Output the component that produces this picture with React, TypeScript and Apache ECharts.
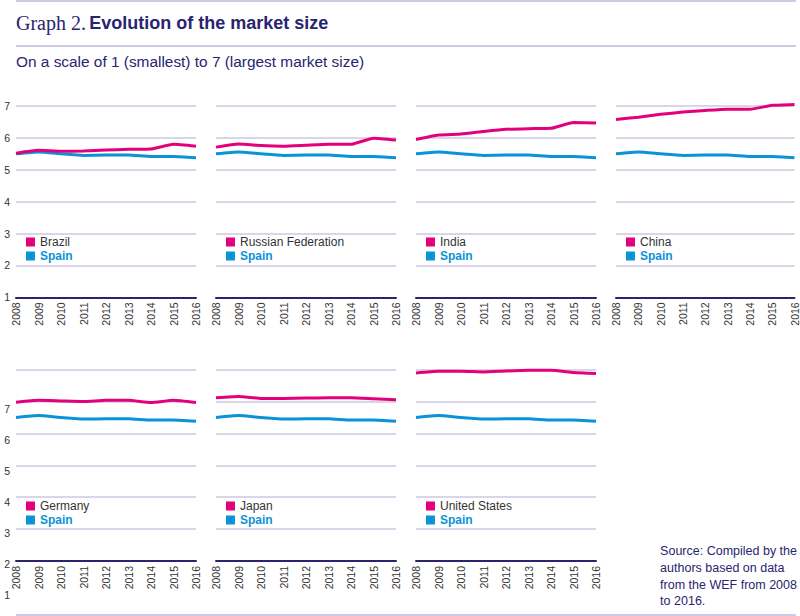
import { useEffect, useRef } from "react";
import * as echarts from "echarts";

const years = ["2008", "2009", "2010", "2011", "2012", "2013", "2014", "2015", "2016"];
const yTicks = ["1", "2", "3", "4", "5", "6", "7"];

const spain = [5.5, 5.56, 5.5, 5.45, 5.46, 5.46, 5.42, 5.42, 5.38];
const brazil = [5.52, 5.61, 5.58, 5.59, 5.62, 5.64, 5.65, 5.8, 5.74];
const russia = [5.71, 5.81, 5.76, 5.74, 5.77, 5.8, 5.8, 5.99, 5.93];
const india = [5.95, 6.09, 6.12, 6.2, 6.27, 6.29, 6.3, 6.48, 6.47];
const china = [6.58, 6.65, 6.74, 6.81, 6.86, 6.9, 6.9, 7.02, 7.05];
const germany = [5.98, 6.04, 6.02, 6.0, 6.04, 6.04, 5.97, 6.04, 5.97];
const japan = [6.12, 6.16, 6.1, 6.1, 6.11, 6.12, 6.12, 6.09, 6.06];
const usa = [6.9, 6.95, 6.95, 6.93, 6.96, 6.98, 6.98, 6.91, 6.88];

const countries = ["Brazil", "Russian Federation", "India", "China", "Germany", "Japan", "United States"];
const countryValues = [brazil, russia, india, china, germany, japan, usa];

const NAVY = "#29246f";
const PINK = "#e4007d";
const BLUE = "#0a93d6";
const GRID = "#cbc8e0";
const TEXT = "#333333";
const FONT = "'Liberation Sans', Arial, sans-serif";

const labelStyle = { fontSize: 10.5, color: TEXT, fontFamily: FONT };

export default function App() {
  const ref = useRef<HTMLDivElement | null>(null);

  useEffect(() => {
    if (!ref.current) return;
    const chart = echarts.init(ref.current, undefined, { renderer: "svg" });

    const grids: any[] = [];
    const xAxes: any[] = [];
    const yAxes: any[] = [];
    const series: any[] = [];
    const legends: any[] = [];

    countries.forEach((name, i) => {
      const row = i < 4 ? 0 : 1;
      const col = i % 4;
      const left = 16 + col * 200;
      const top = row === 0 ? 106 : 369.7;
      grids.push({ left, top, width: 180, height: 191.3 });
      xAxes.push({
        type: "category",
        gridIndex: i,
        data: years,
        boundaryGap: false,
        axisLine: { lineStyle: { color: NAVY, width: 2 } },
        axisTick: { show: false },
        axisLabel: { ...labelStyle, rotate: 90, interval: 0, margin: 5 }
      });
      yAxes.push({
        type: "value",
        gridIndex: i,
        min: 1,
        max: 7,
        interval: 1,
        axisLine: { show: false },
        axisTick: { show: false },
        splitLine: { lineStyle: { color: GRID, width: 1.5 } },
        axisLabel: {
          ...labelStyle,
          show: row === 0 && col === 0,
          margin: 6,
          formatter: (v: number) => yTicks[v - 1] ?? ""
        }
      });
      series.push({
        type: "line",
        name: "Spain",
        xAxisIndex: i,
        yAxisIndex: i,
        data: spain,
        showSymbol: false,
        smooth: 0.15,
        clip: false,
        lineStyle: { color: BLUE, width: 3 },
        itemStyle: { color: BLUE }
      });
      series.push({
        type: "line",
        name,
        xAxisIndex: i,
        yAxisIndex: i,
        data: countryValues[i],
        showSymbol: false,
        smooth: 0.15,
        clip: false,
        lineStyle: { color: PINK, width: 3 },
        itemStyle: { color: PINK }
      });
      legends.push({
        orient: "vertical",
        left: left + 10,
        top: row === 0 ? 235 : 499,
        padding: 0,
        itemGap: 0,
        itemWidth: 9,
        itemHeight: 9,
        icon: "rect",
        selectedMode: false,
        itemStyle: { borderWidth: 0 },
        textStyle: { fontSize: 12, lineHeight: 14, fontFamily: FONT },
        data: [
          { name, textStyle: { color: TEXT } },
          { name: "Spain", textStyle: { color: BLUE, fontWeight: "bold" } }
        ]
      });
    });

    // the lower row's tick labels sit about one step lower than its gridlines in the original
    grids.push({ left: 16, top: 409, width: 180, height: 186 });
    xAxes.push({ type: "category", gridIndex: 7, data: years, show: false });
    yAxes.push({
      type: "value",
      gridIndex: 7,
      min: 1,
      max: 7,
      interval: 1,
      axisLine: { show: false },
      axisTick: { show: false },
      splitLine: { show: false },
      axisLabel: { ...labelStyle, margin: 6, formatter: (v: number) => yTicks[v - 1] ?? "" }
    });

    chart.setOption({
      animation: false,
      backgroundColor: "#ffffff",
      textStyle: { fontFamily: FONT },
      grid: grids,
      xAxis: xAxes,
      yAxis: yAxes,
      legend: legends,
      series,
      graphic: [
        { type: "line", shape: { x1: 16, y1: 1, x2: 796, y2: 1 }, style: { stroke: "#bdb9da", lineWidth: 1.5 } },
        { type: "line", shape: { x1: 16, y1: 46, x2: 796, y2: 46 }, style: { stroke: "#bdb9da", lineWidth: 1.5 } },
        { type: "line", shape: { x1: 16, y1: 615, x2: 796, y2: 615 }, style: { stroke: "#bdb9da", lineWidth: 1.5 } },
        {
          type: "text",
          left: 16,
          top: 13,
          style: {
            text: "{a|Graph 2.} {b|Evolution of the market size}",
            rich: {
              a: { fontFamily: "'Liberation Serif', serif", fontSize: 20, fill: NAVY },
              b: { fontFamily: FONT, fontSize: 18, fontWeight: "bold", fill: NAVY }
            }
          }
        },
        {
          type: "text",
          left: 16,
          top: 54,
          style: {
            text: "On a scale of 1 (smallest) to 7 (largest market size)",
            fontFamily: FONT,
            fontSize: 15.4,
            fill: NAVY
          }
        },
        {
          type: "text",
          right: 3,
          top: 543,
          style: {
            text: "Source: Compiled by the\nauthors based on data\nfrom the WEF from 2008\nto 2016.",
            fontFamily: FONT,
            fontSize: 12.5,
            lineHeight: 16.7,
            align: "right",
            fill: NAVY
          }
        }
      ]
    });

    return () => {
      chart.dispose();
    };
  }, []);

  return <div ref={ref} style={{ position: "absolute", left: 0, top: 0, width: 800, height: 616 }} />;
}
